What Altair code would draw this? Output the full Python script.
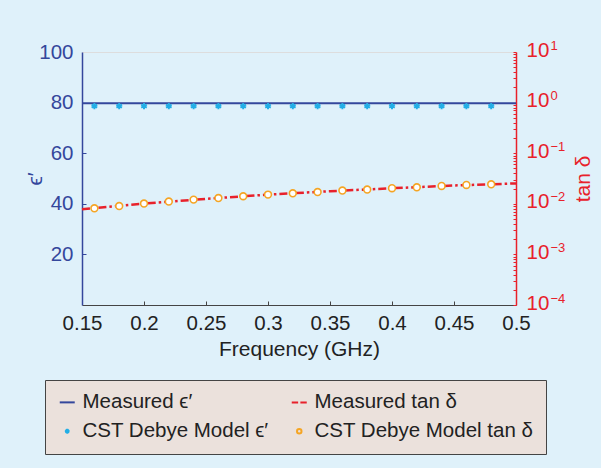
import altair as alt
import pandas as pd

# ---------------- data ----------------
freq_meas = [0.15, 0.20, 0.25, 0.30, 0.35, 0.40, 0.45, 0.50]
eps_meas = [79.7, 79.7, 79.7, 79.7, 79.7, 79.7, 79.7, 79.7]
tan_meas = [0.0078, 0.0101, 0.0125, 0.0152, 0.0177, 0.0203, 0.0230, 0.0253]

freq_model = [0.16, 0.18, 0.20, 0.22, 0.24, 0.26, 0.28, 0.30, 0.32,
              0.34, 0.36, 0.38, 0.40, 0.42, 0.44, 0.46, 0.48]
eps_model = [78.6, 78.6, 78.6, 78.6, 78.6, 78.6, 78.6, 78.6, 78.6,
             78.6, 78.6, 78.6, 78.6, 78.6, 78.6, 78.6, 78.6]
tan_model = [0.00815, 0.00904, 0.0101, 0.0111, 0.0121, 0.0130, 0.0141, 0.0152, 0.0161,
             0.0171, 0.0183, 0.0191, 0.0203, 0.0212, 0.0225, 0.0236, 0.0243]

S1 = "Measured ϵ′"
S2 = "Measured tan δ"
S3 = "CST Debye Model ϵ′"
S4 = "CST Debye Model tan δ"
series_order = [S1, S2, S3, S4]

x_ticks = [0.15, 0.20, 0.25, 0.30, 0.35, 0.40, 0.45, 0.50]
x_inner_ticks = [0.20, 0.25, 0.30, 0.35, 0.40, 0.45]
eps_ticks = [20, 40, 60, 80, 100]
tan_major = [1e-4, 1e-3, 1e-2, 1e-1, 1.0, 10.0]
tan_minor = [m * 10.0 ** e for e in range(-4, 1) for m in range(1, 10)] + [10.0]
tan_exponents = ["−4", "−3", "−2", "−1", "0", "1"]

# ---------------- styles ----------------
BLUE = "#34479c"
RED = "#e8212b"
CYAN = "#22aee6"
ORANGE = "#f5a524"
DARK = "#222222"
FONT = "Liberation Sans"
W, H = 434, 253

SHAPES = [
    "M-1,0L1,0",
    "M-1,0L-0.15,0M0.15,0L1,0",
    "M0,-0.32L0,0.32M-0.28,-0.16L0.28,0.16M-0.28,0.16L0.28,-0.16",
    "M0.3,0A0.3,0.3,0,1,1,-0.3,0A0.3,0.3,0,1,1,0.3,0",
]

color_scale = alt.Scale(domain=series_order, range=[BLUE, RED, CYAN, ORANGE])
shape_scale = alt.Scale(domain=series_order, range=SHAPES)
x_scale = alt.Scale(domain=[0.15, 0.5], nice=False, zero=False)
eps_scale = alt.Scale(domain=[0, 100], nice=False, zero=False)
tan_scale = alt.Scale(type="log", domain=[1e-4, 10], nice=False)

legend_def = alt.Legend(title=None)

exp_list = "[" + ",".join("'%s'" % e for e in tan_exponents) + "]"
decade = "round(log(datum.value)/LN10)"
exp_expr = ("abs(log(datum.value)/LN10 - %s) < 0.01 ? %s[%s + 4] : ''"
            % (decade, exp_list, decade))

df_eps_meas = pd.DataFrame({"freq": freq_meas, "val": eps_meas, "series": S1})
df_tan_meas = pd.DataFrame({"freq": freq_meas, "val": tan_meas, "series": S2})
df_eps_model = pd.DataFrame({"freq": freq_model, "val": eps_model, "series": S3})
df_tan_model = pd.DataFrame({"freq": freq_model, "val": tan_model, "series": S4})

# Layer 1: measured eps line, with labelled bottom and left axes
l1 = alt.Chart(df_eps_meas).mark_line(strokeWidth=2).encode(
    x=alt.X("freq:Q", scale=x_scale, title="Frequency (GHz)",
            axis=alt.Axis(orient="bottom", values=x_ticks, format="~g", tickSize=0,
                          domainColor="#444444", domainWidth=1.2,
                          labelColor=DARK, labelFontSize=20.5, labelPadding=8,
                          labelFlush=False, labelOverlap=False,
                          titleColor=DARK, titleFontSize=21, titleFontWeight="normal",
                          titlePadding=5, grid=False)),
    y=alt.Y("val:Q", scale=eps_scale, title="ϵ′",
            axis=alt.Axis(orient="left", values=eps_ticks, tickSize=0,
                          domainColor=BLUE, domainWidth=1.5,
                          labelColor=BLUE, labelFontSize=20.5, labelPadding=9,
                          labelFlush=False, labelOverlap=False,
                          titleColor=BLUE, titleFontSize=21, titleFontWeight="normal",
                          titleAngle=270, titleX=-47, titleY=H / 2,
                          titleAlign="center", titleBaseline="middle", grid=False)),
    color=alt.Color("series:N", scale=color_scale, legend=legend_def),
)

# Layer 2: model eps stars, inner ticks on bottom and left
l2 = alt.Chart(df_eps_model).mark_point(size=400, strokeWidth=2, filled=False, opacity=1).encode(
    x=alt.X("freq:Q", scale=x_scale, title=None,
            axis=alt.Axis(orient="top", offset=-H, values=x_inner_ticks, labels=False,
                          domain=False, tickSize=4, tickColor="#444444", grid=False)),
    y=alt.Y("val:Q", scale=eps_scale, title=None,
            axis=alt.Axis(orient="right", offset=-W, values=[20, 40, 60, 80], labels=False,
                          domain=False, tickSize=4, tickColor=BLUE, grid=False)),
    color=alt.Color("series:N", scale=color_scale, legend=None),
    shape=alt.Shape("series:N", scale=shape_scale, legend=legend_def),
)

# Layer 3: measured tan delta dash-dot line, right labelled log axis ("10")
l3 = alt.Chart(df_tan_meas).mark_line(strokeWidth=2.5, strokeDash=[8, 3, 2.5, 3]).encode(
    x=alt.X("freq:Q", scale=x_scale, axis=None),
    y=alt.Y("val:Q", scale=tan_scale, title="tan δ",
            axis=alt.Axis(orient="right", values=tan_major, tickSize=0,
                          domainColor=RED, domainWidth=1.5,
                          labelColor=RED, labelFontSize=20.5, labelPadding=10,
                          labelExpr="'10'", labelOffset=-2,
                          labelFlush=False, labelOverlap=False,
                          titleColor=RED, titleFontSize=21, titleFontWeight="normal",
                          titleAngle=270, titleX=67, titleY=H / 2,
                          titleAlign="center", titleBaseline="middle", grid=False)),
    color=alt.Color("series:N", scale=color_scale, legend=None),
)

# Layer 4: model tan delta open circles, inner log ticks + exponent labels
l4 = alt.Chart(df_tan_model).mark_point(size=520, strokeWidth=1.6, filled=False,
                                         fill="white", opacity=1).encode(
    x=alt.X("freq:Q", scale=x_scale, axis=None),
    y=alt.Y("val:Q", scale=tan_scale, title=None,
            axis=alt.Axis(orient="left", offset=-W, values=tan_minor,
                          domain=False, tickSize=3, tickColor=RED, grid=False,
                          labelExpr=exp_expr, labelAlign="left", labelBaseline="middle",
                          labelPadding=-37, labelOffset=-7, labelFontSize=13,
                          labelColor=RED, labelFlush=False, labelOverlap=False,
                          labelBound=False)),
    color=alt.Color("series:N", scale=color_scale, legend=None),
    shape=alt.Shape("series:N", scale=shape_scale, legend=None),
)

chart = alt.layer(l1, l2, l3, l4).resolve_scale(
    y="independent"
).resolve_axis(
    y="independent", x="independent"
).properties(
    width=W, height=H,
    autosize=alt.AutoSizeParams(type="none"),
    padding={"left": 82, "top": 52, "right": 85, "bottom": 163},
    background="#dff1fa",
).configure_view(
    fill="white", stroke="#555555", strokeWidth=1
).configure(
    font=FONT
).configure_legend(
    orient="none", legendX=-37, legendY=328, columns=2, direction="horizontal",
    fillColor="#ebe1dc", strokeColor="#444444", padding=12,
    labelFontSize=20.5, labelColor=DARK, labelFont=FONT, labelLimit=400,
    labelOffset=5, symbolSize=225, symbolStrokeWidth=2,
    columnPadding=18, rowPadding=8, cornerRadius=0,
)

chart.save("out.html", embed_options={"renderer": "svg", "actions": False})
